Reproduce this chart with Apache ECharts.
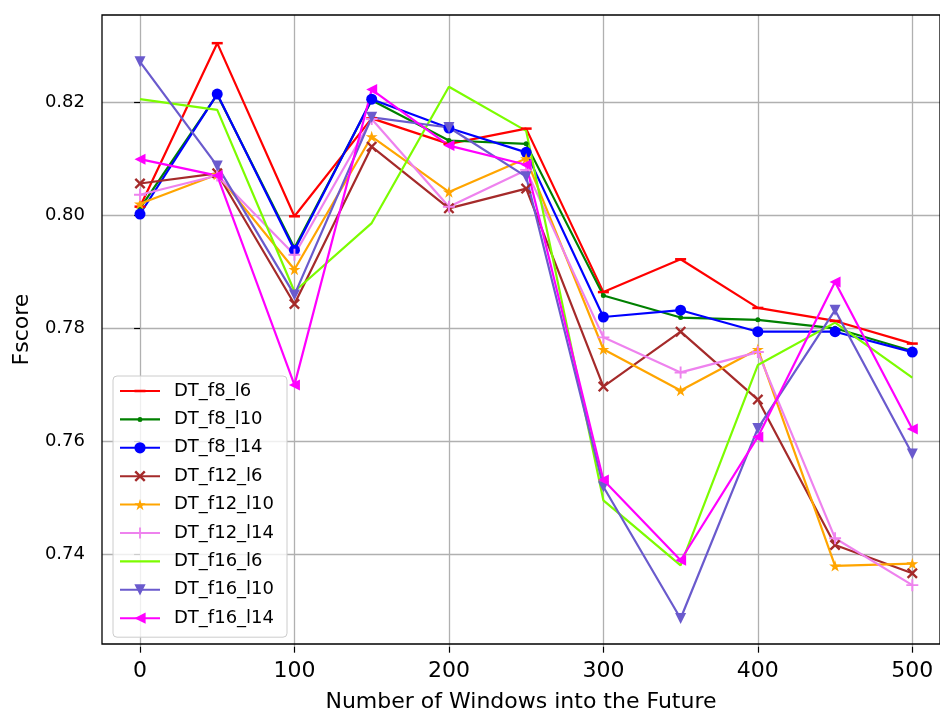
<!DOCTYPE html>
<html>
<head>
<meta charset="utf-8">
<script src="https://cdn.jsdelivr.net/npm/echarts@6/dist/echarts.min.js"></script>
<style>
	html, body { margin: 0; padding: 0; background: #fff; }
	#main { width: 940px; height: 718px; }
</style>
</head>
<body>
<div id="main"></div>
<script>
// x positions: windows into the future
var windows = [0, 50, 100, 150, 200, 250, 300, 350, 400, 450, 500];
var xTicks = [0, 100, 200, 300, 400, 500];
var yTicks = [0.74, 0.76, 0.78, 0.80, 0.82];

var names = ['DT_f8_l6', 'DT_f8_l10', 'DT_f8_l14', 'DT_f12_l6', 'DT_f12_l10', 'DT_f12_l14', 'DT_f16_l6', 'DT_f16_l10', 'DT_f16_l14'];

var f8_l6 = [0.8015, 0.8304, 0.7998, 0.8171, 0.8126, 0.8153, 0.7864, 0.7922, 0.7836, 0.7813, 0.7773];
var f8_l10 = [0.8012, 0.8213, 0.7942, 0.8203, 0.8132, 0.8126, 0.7858, 0.7819, 0.7815, 0.7800, 0.7760];
var f8_l14 = [0.8002, 0.8214, 0.7938, 0.8205, 0.8154, 0.8111, 0.7820, 0.7832, 0.7794, 0.7794, 0.7758];
var f12_l6 = [0.8056, 0.8074, 0.7843, 0.8121, 0.8012, 0.8047, 0.7697, 0.7794, 0.7674, 0.7417, 0.7367];
var f12_l10 = [0.8020, 0.8072, 0.7904, 0.8139, 0.8041, 0.8100, 0.7763, 0.7690, 0.7763, 0.7380, 0.7384];
var f12_l14 = [0.8036, 0.8070, 0.7930, 0.8170, 0.8015, 0.8080, 0.7784, 0.7722, 0.7758, 0.7429, 0.7346];
var f16_l6 = [0.8205, 0.8186, 0.7865, 0.7986, 0.8227, 0.8149, 0.7496, 0.7381, 0.7735, 0.7810, 0.7713];
var f16_l10 = [0.8271, 0.8087, 0.7859, 0.8173, 0.8155, 0.8068, 0.7520, 0.7287, 0.7623, 0.7832, 0.7578];
var f16_l14 = [0.8099, 0.8070, 0.7700, 0.8222, 0.8123, 0.8089, 0.7532, 0.7390, 0.7608, 0.7882, 0.7622];

var allValues = [f8_l6, f8_l10, f8_l14, f12_l6, f12_l10, f12_l14, f16_l6, f16_l10, f16_l14];

var colors = ['#ff0000', '#008000', '#0000ff', '#a52a2a', '#ffa500', '#ee82ee', '#7cfc00', '#6a5acd', '#ff00ff'];

var plusPath = 'path://M4.2,0H5.8V4.2H10V5.8H5.8V10H4.2V5.8H0V4.2H4.2Z';
var crossPath = 'path://M0,1.5L1.5,0L5,3.5L8.5,0L10,1.5L6.5,5L10,8.5L8.5,10L5,6.5L1.5,10L0,8.5L3.5,5Z';
var starPath = 'path://M50,0L61.2,34.5L97.6,34.5L68.2,55.9L79.4,90.5L50,69.1L20.6,90.5L31.8,55.9L2.4,34.5L38.8,34.5Z';

var markers = [
	{ symbol: 'rect', size: [11, 2.5], rotate: 0 },
	{ symbol: 'circle', size: 5, rotate: 0 },
	{ symbol: 'circle', size: 11, rotate: 0 },
	{ symbol: crossPath, size: 11, rotate: 0 },
	{ symbol: starPath, size: 12, rotate: 0 },
	{ symbol: plusPath, size: 12, rotate: 0 },
	{ symbol: 'none', size: 0, rotate: 0 },
	{ symbol: 'triangle', size: 11, rotate: 180 },
	{ symbol: 'triangle', size: 11, rotate: 90 }
];

// legend handles drawn as line + marker inside a 40x14 box (corner specks fix the bounds)
var box = 'M0,0L0.01,0L0,0.01Z M40,14L39.99,14L40,13.99Z ';
var lineBar = 'M0,5.9H40V8.1H0Z ';
var legendIcons = [
	'path://' + box + lineBar + 'M14.5,5.75H25.5V8.25H14.5Z',
	'path://' + box + lineBar + 'M17.5,7A2.5,2.5,0,1,1,22.5,7A2.5,2.5,0,1,1,17.5,7Z',
	null, null, null, null,
	'path://' + box + lineBar,
	null, null
];

var font = 'DejaVu Sans';
var yLo = 0.72372, yHi = 0.83538;

var series = names.map(function(n, i) {
	return {
		name: n,
		type: 'line',
		xAxisIndex: 1,
		yAxisIndex: 1,
		clip: false,
		symbol: markers[i].symbol,
		symbolSize: markers[i].size,
		symbolRotate: markers[i].rotate,
		symbolKeepAspect: true,
		showAllSymbol: true,
		lineStyle: { color: colors[i], width: 2.2 },
		itemStyle: { color: colors[i], borderWidth: 0 },
		data: windows.map(function(w, k) { return [w, allValues[i][k]]; })
	};
});

var legendData = names.map(function(n, i) {
	return legendIcons[i] ? { name: n, icon: legendIcons[i] } : { name: n };
});

var myChart = echarts.init(document.getElementById('main'));
var option = {
	animation: false,
	backgroundColor: '#fff',
	textStyle: { fontFamily: font },
	grid: [
		{ left: 102, right: -11, top: 15, bottom: 71.3, show: true, borderColor: '#000', borderWidth: 1.3, backgroundColor: 'transparent', z: 3 },
		{ left: 140, right: 27.7, top: 15, bottom: 71.3 },
		{ left: 102, right: -11, top: 102, bottom: 163.4 }
	],
	legend: {
		orient: 'vertical',
		left: 113,
		top: 376,
		padding: [6, 13, 10, 6],
		itemWidth: 40,
		itemHeight: 14,
		itemGap: 10.4,
		backgroundColor: 'rgba(255,255,255,0.8)',
		borderColor: '#cccccc',
		borderWidth: 1,
		borderRadius: 4,
		textStyle: { fontFamily: font, fontSize: 18, color: '#000', padding: [0, 0, 0, 9] },
		data: legendData
	},
	xAxis: [{
		gridIndex: 0,
		type: 'value',
		min: -25,
		max: 525,
		axisLine: { show: false },
		axisTick: { show: false },
		axisLabel: { show: false },
		splitLine: { show: false },
		name: 'Number of Windows into the Future',
		nameLocation: 'middle',
		nameGap: 47,
		nameTextStyle: { fontFamily: font, fontSize: 22, color: '#000' }
	}, {
		gridIndex: 1,
		type: 'value',
		min: 0,
		max: 500,
		interval: 100,
		axisLine: { show: false },
		axisTick: { show: true, length: 6, lineStyle: { color: '#000', width: 1.2 } },
		axisLabel: {
			fontFamily: font, fontSize: 22, color: '#000', margin: 14,
			formatter: function(v) { return xTicks.indexOf(v) >= 0 ? String(v) : ''; }
		},
		splitLine: { show: true, lineStyle: { color: '#b0b0b0', width: 1.3 } }
	}, {
		gridIndex: 2,
		type: 'value',
		min: -25,
		max: 525,
		show: false
	}],
	yAxis: [{
		gridIndex: 0,
		type: 'value',
		min: yLo,
		max: yHi,
		axisLine: { show: false },
		axisTick: { show: false },
		axisLabel: { show: false },
		splitLine: { show: false },
		name: 'Fscore',
		nameLocation: 'middle',
		nameRotate: 90,
		nameGap: 69,
		nameTextStyle: { fontFamily: font, fontSize: 22, color: '#000' }
	}, {
		gridIndex: 1,
		type: 'value',
		min: yLo,
		max: yHi,
		show: false
	}, {
		gridIndex: 2,
		type: 'value',
		min: yTicks[0],
		max: yTicks[yTicks.length - 1],
		interval: 0.02,
		axisLine: { show: false },
		axisTick: { show: true, length: 6, lineStyle: { color: '#000', width: 1.2 } },
		axisLabel: {
			fontFamily: font, fontSize: 18, color: '#000', margin: 17,
			formatter: function(v) { return v.toFixed(2); }
		},
		splitLine: { show: true, lineStyle: { color: '#b0b0b0', width: 1.3 } }
	}],
	series: series
};
myChart.setOption(option);
</script>
</body>
</html>
